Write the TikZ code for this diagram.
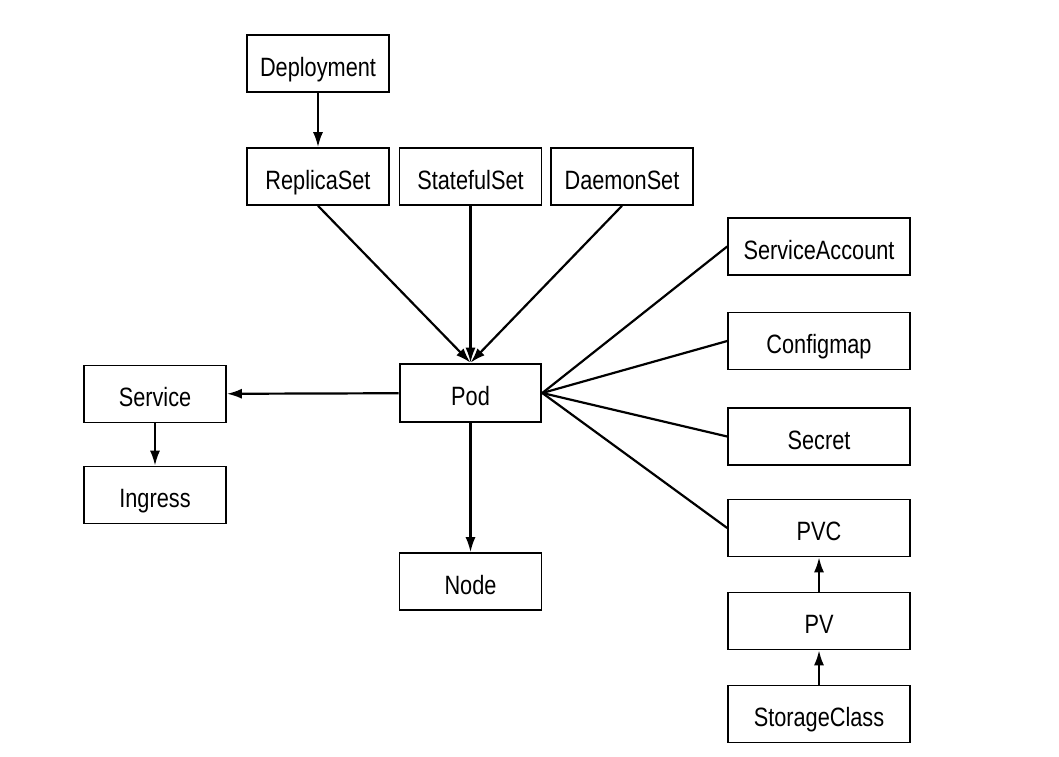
\documentclass[tikz,border=0pt]{standalone}
\usepackage{fontspec}
\setmainfont{Liberation Sans}[FakeStretch=0.82]
\usetikzlibrary{arrows.meta}
\begin{document}
\begin{tikzpicture}[x=1pt,y=-1pt,
  box/.style={draw=black,line width=1.6pt,fill=white,inner sep=0pt,minimum width=142pt,minimum height=57pt,text height=25pt,text depth=0pt,font=\fontsize{26.5}{30}\selectfont},
  wbox/.style={box,minimum width=182pt},
  conn/.style={line width=2.2pt},
  arr/.style={conn,-{Latex[length=15pt,width=10pt]}}]
\useasboundingbox (0,0) rectangle (1059,756);
\node[box] (dep) at (318,63.5) {Deployment};
\node[box] (rs) at (318,176.5) {ReplicaSet};
\node[box] (ss) at (470.5,176.5) {StatefulSet};
\node[box] (ds) at (622,176.5) {DaemonSet};
\node[box,line width=2.6pt,minimum width=141pt,minimum height=58pt] (pod) at (470.5,393) {Pod};
\node[box] (svc) at (155,394) {Service};
\node[box] (ing) at (155,495) {Ingress};
\node[box] (node) at (470.5,581.5) {Node};
\node[wbox] (sa) at (819,246.5) {ServiceAccount};
\node[wbox] (cm) at (819,341) {Configmap};
\node[wbox] (sec) at (819,436.5) {Secret};
\node[wbox] (pvc) at (819,528) {PVC};
\node[wbox] (pv) at (819,621) {PV};
\node[wbox] (sc) at (819,714) {StorageClass};
\draw[arr] (dep) -- (rs);
\draw[arr] (rs.south) -- (pod.north);
\draw[arr] (ss) -- (pod);
\draw[arr] (ds.south) -- (pod.north);
\draw[arr] (pod) -- (svc);
\draw[arr] (svc) -- (ing);
\draw[arr] (pod) -- (node);
\draw[conn] (pod.east) -- (sa.west);
\draw[conn] (pod.east) -- (cm.west);
\draw[conn] (pod.east) -- (sec.west);
\draw[conn] (pod.east) -- (pvc.west);
\draw[arr] (pv) -- (pvc);
\draw[arr] (sc) -- (pv);
\end{tikzpicture}
\end{document}
